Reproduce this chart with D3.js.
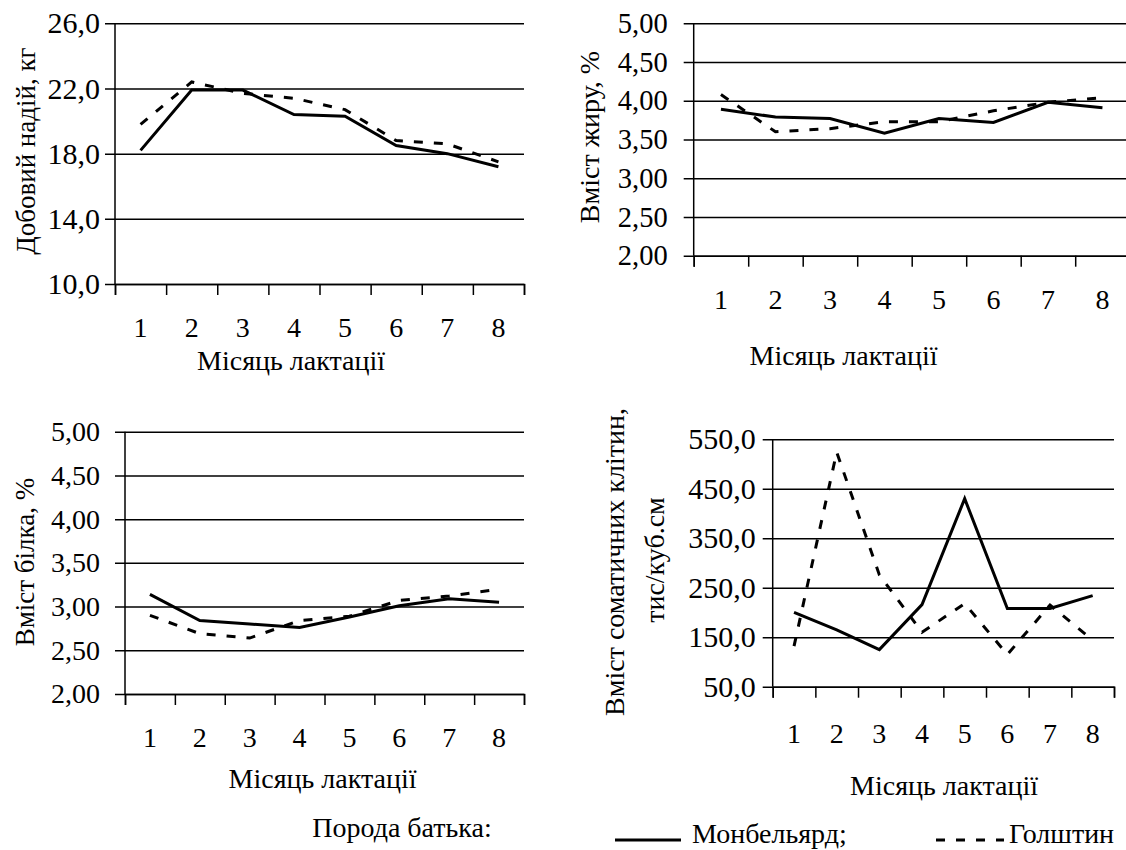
<!DOCTYPE html>
<html>
<head>
<meta charset="utf-8">
<script src="https://cdn.jsdelivr.net/npm/d3@7"></script>
<style>
  body { margin: 0; background: #fff; }
  svg, svg text { font-family: "Liberation Serif", "Times New Roman", serif; }
  svg { display: block; }
</style>
</head>
<body>
<svg id="chart" width="1126" height="850"></svg>
<script>
// months of lactation (categories)
const months = [1, 2, 3, 4, 5, 6, 7, 8];
const seriesNames = ["Монбельярд;", "Голштин"];

// daily milk yield, kg
const milkMont = [18.2, 21.9, 21.9, 20.4, 20.3, 18.5, 18.0, 17.2];
const milkHol = [19.8, 22.4, 21.7, 21.4, 20.7, 18.8, 18.6, 17.5];
// fat content, %
const fatMont = [3.89, 3.79, 3.77, 3.58, 3.77, 3.72, 3.98, 3.91];
const fatHol = [4.08, 3.60, 3.64, 3.73, 3.73, 3.87, 3.98, 4.04];
// protein content, %
const proteinMont = [3.14, 2.84, 2.80, 2.76, 2.88, 3.01, 3.09, 3.05];
const proteinHol = [2.90, 2.69, 2.64, 2.84, 2.89, 3.07, 3.12, 3.20];
// somatic cells, thousand / cubic cm
const sccMont = [200, 165, 125, 216, 430, 208, 208, 234];
const sccHol = [132, 524, 276, 160, 218, 115, 215, 144];

// tick values
const milkTicks = [10, 14, 18, 22, 26];
const pctTicks = [2.0, 2.5, 3.0, 3.5, 4.0, 4.5, 5.0];
const sccTicks = [50, 150, 250, 350, 450, 550];

const uaLocale = d3.formatLocale({ decimal: ",", thousands: " ", grouping: [3], currency: ["", ""] });
const fmt1 = uaLocale.format(".1f");
const fmt2 = uaLocale.format(".2f");

const svg = d3.select("#chart");
svg.append("rect").attr("width", 1126).attr("height", 850).attr("fill", "#fff");

const FONT = 28;
const SERIF = "Liberation Serif";
const DASH = "9,11";

function drawPanel(p)
{
  const g = svg.append("g");
  const x = d3.scaleBand().domain(months).range([ p.left, p.right ]);
  const y = d3.scaleLinear().domain(p.domain).range([ p.bottom, p.top ]);

  // gridlines (starting at the outside tick) and y labels
  g.append("g")
      .attr("transform", `translate(${p.left - 10},0)`)
      .call(d3.axisLeft(y).tickValues(p.ticks).tickFormat(p.fmt)
                .tickSize(-(p.right - p.left + 10)).tickPadding(p.yPad))
      .attr("font-family", SERIF).attr("font-size", p.yTickSize)
      .call(a => a.select(".domain").remove())
      .call(a => a.selectAll("line").attr("stroke", "#000").attr("stroke-width", 1.5))
      .call(a => a.selectAll("text").attr("fill", "#000"));

  // vertical axis line
  g.append("line")
      .attr("x1", p.left).attr("x2", p.left)
      .attr("y1", p.top).attr("y2", p.bottom)
      .attr("stroke", "#000").attr("stroke-width", 1.5);

  // tick marks between categories
  const xb = d3.scaleLinear().domain([ 0, months.length ]).range([ p.left, p.right ]);
  g.append("g")
      .attr("transform", `translate(0,${p.bottom})`)
      .call(d3.axisBottom(xb).tickValues(d3.range(0, months.length + 1))
                .tickFormat("").tickSizeOuter(0).tickSize(11))
      .call(a => a.selectAll("line,path").attr("stroke", "#000").attr("stroke-width", 1.5));

  // category labels
  g.append("g")
      .attr("transform", `translate(0,${p.bottom})`)
      .call(d3.axisBottom(x).tickSize(0).tickPadding(p.xPad))
      .attr("font-family", SERIF).attr("font-size", FONT)
      .call(a => a.select(".domain").remove())
      .call(a => a.selectAll("text").attr("fill", "#000"));

  // axis titles
  g.append("text")
      .attr("x", p.xTitle[0]).attr("y", p.xTitle[1])
      .attr("text-anchor", "middle").attr("dominant-baseline", "central")
      .attr("font-family", SERIF).attr("font-size", FONT)
      .text("Місяць лактації");

  p.yTitle.forEach(t => {
    g.append("text")
        .attr("transform", `translate(${t.x},${t.y}) rotate(-90)`)
        .attr("text-anchor", "middle").attr("dominant-baseline", "central")
        .attr("font-family", SERIF).attr("font-size", p.yTitleSize)
        .text(t.text);
  });

  // data lines
  const line = d3.line()
      .x((d, i) => x(months[i]) + x.bandwidth() / 2)
      .y(d => y(d));

  g.append("path").datum(p.hol)
      .attr("d", line).attr("fill", "none")
      .attr("stroke", "#000").attr("stroke-width", 3)
      .attr("stroke-dasharray", DASH);

  g.append("path").datum(p.mont)
      .attr("d", line).attr("fill", "none")
      .attr("stroke", "#000").attr("stroke-width", 3)
      .attr("stroke-linejoin", "miter");
}

drawPanel({
  left: 115, right: 524, top: 23.3, bottom: 284,
  domain: [ 10, 26 ], ticks: milkTicks, fmt: fmt1, yPad: 5, xPad: 33.5,
  yTickSize: 30,
  xTitle: [ 291, 360 ],
  yTitleSize: 27,
  yTitle: [ { x: 26, y: 151, text: "Добовий надій, кг" } ],
  mont: milkMont, hol: milkHol
});

drawPanel({
  left: 693.7, right: 1129.7, top: 23.3, bottom: 255.7,
  domain: [ 2, 5 ], ticks: pctTicks, fmt: fmt2, yPad: 16, xPad: 33.8,
  yTickSize: 28.5,
  xTitle: [ 843.5, 355 ],
  yTitleSize: 28,
  yTitle: [ { x: 589, y: 137, text: "Вміст жиру, %" } ],
  mont: fatMont, hol: fatHol
});

drawPanel({
  left: 125, right: 524, top: 431.7, bottom: 694,
  domain: [ 2, 5 ], ticks: pctTicks, fmt: fmt2, yPad: 15, xPad: 33.5,
  yTickSize: 28,
  xTitle: [ 322.5, 778 ],
  yTitleSize: 27,
  yTitle: [ { x: 25, y: 562, text: "Вміст білка, %" } ],
  mont: proteinMont, hol: proteinHol
});

drawPanel({
  left: 772.7, right: 1114, top: 439.3, bottom: 686.7,
  domain: [ 50, 550 ], ticks: sccTicks, fmt: fmt1, yPad: 7, xPad: 36,
  yTickSize: 30,
  xTitle: [ 944, 785 ],
  yTitleSize: 28,
  yTitle: [ { x: 614, y: 562, text: "Вміст соматичних клітин," },
            { x: 654, y: 560, text: "тис/куб.см" } ],
  mont: sccMont, hol: sccHol
});

// legend
const legend = svg.append("g").attr("font-size", FONT).attr("font-family", SERIF);
legend.append("text").attr("x", 402).attr("y", 837).attr("text-anchor", "middle")
    .text("Порода батька:");

legend.append("line").attr("x1", 615).attr("x2", 681).attr("y1", 840).attr("y2", 840)
    .attr("stroke", "#000").attr("stroke-width", 3);
legend.append("text").attr("x", 692).attr("y", 843).text(seriesNames[0]);

legend.append("line").attr("x1", 936).attr("x2", 1004).attr("y1", 840).attr("y2", 840)
    .attr("stroke", "#000").attr("stroke-width", 3).attr("stroke-dasharray", DASH);
legend.append("text").attr("x", 1009).attr("y", 843).text(seriesNames[1]);
</script>
</body>
</html>
